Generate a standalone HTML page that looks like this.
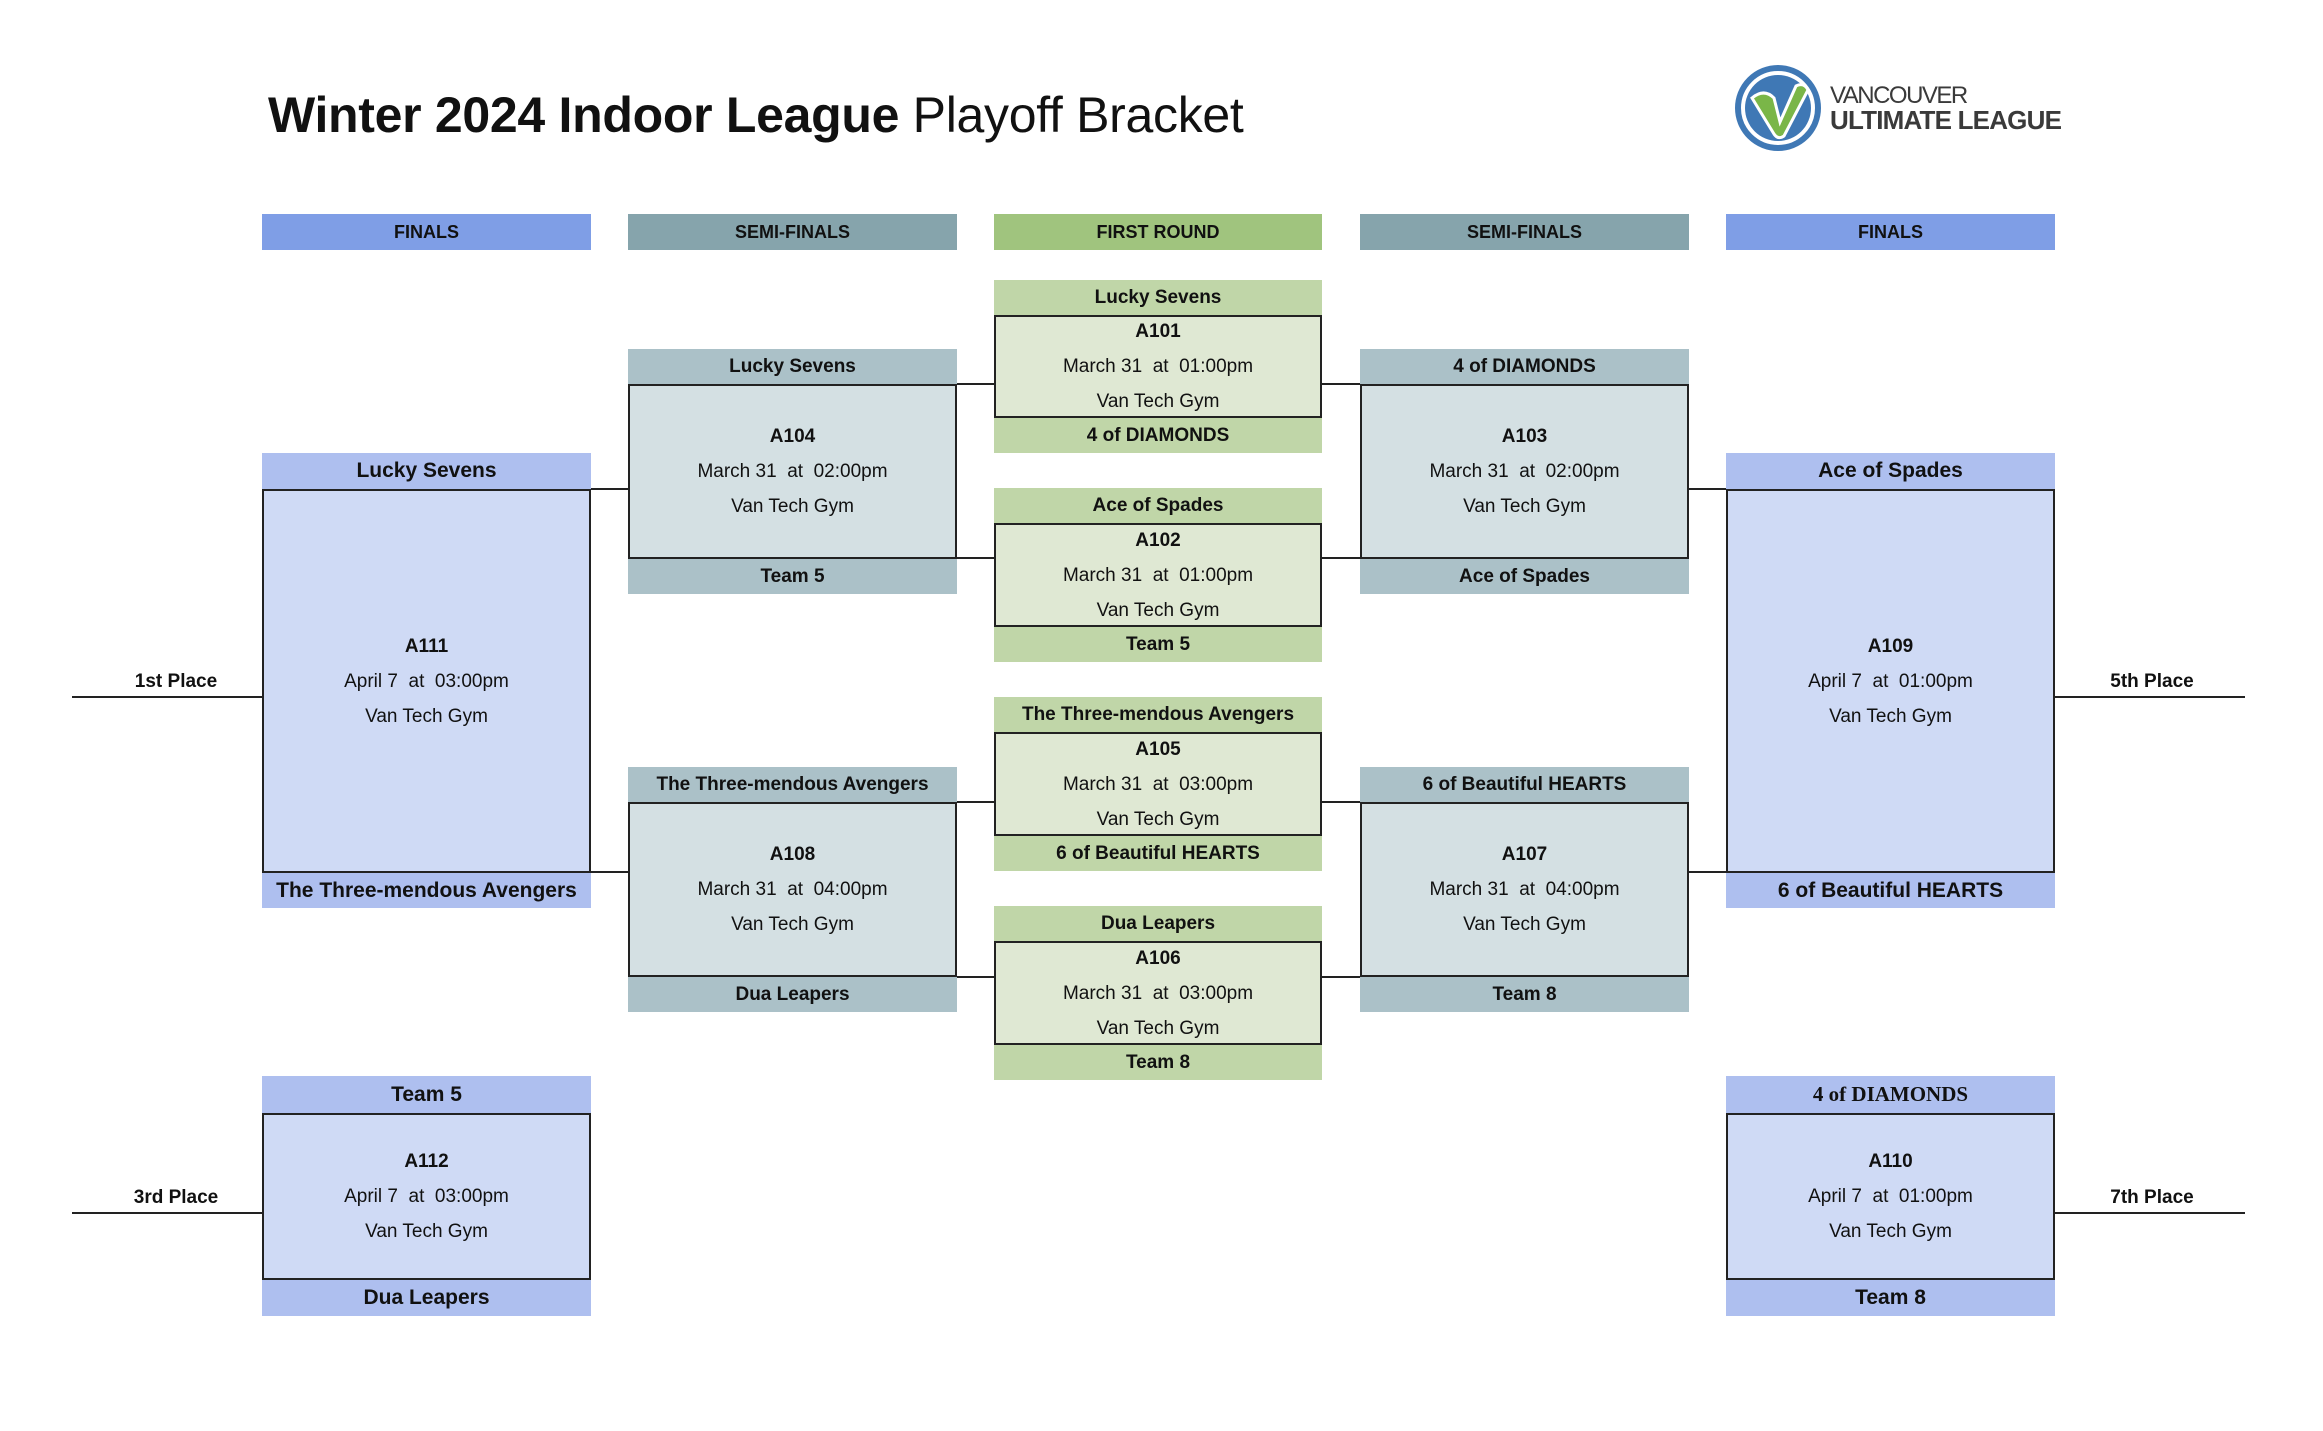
<!DOCTYPE html>
<html><head><meta charset="utf-8"><style>
body{margin:0;width:2323px;height:1431px;background:#fff;position:relative;overflow:hidden;font-family:"Liberation Sans",sans-serif;color:#111}
div{position:absolute;box-sizing:border-box}
.c{display:flex;align-items:center;justify-content:center;text-align:center;font-weight:bold;font-size:19px}
.h1{background:#7f9ee6}.h2{background:#86a4ac}.h3{background:#a0c47e}
.fb{background:#aebfef}.fx{background:#cfdaf5;border:2px solid #222}
.sb{background:#abc1c8}.sx{background:#d4e0e3;border:2px solid #222}
.rb{background:#c0d6a8}.rx{background:#dfe8d3;border:2px solid #222}
.box{display:flex;flex-direction:column;align-items:center;justify-content:center;font-size:19px;line-height:35px;text-align:center}
.box b{font-weight:bold}
.l{height:2px;background:#222}
.pl{font-weight:bold;font-size:19px;text-align:center;width:160px}
</style></head><body>

<div style="left:268px;top:86px;font-size:50px;white-space:nowrap;letter-spacing:-0.3px"><b>Winter 2024 Indoor League</b> Playoff Bracket</div>

<svg style="position:absolute;left:1734px;top:64px" width="90" height="90" viewBox="0 0 90 90">
<circle cx="44" cy="44" r="40" fill="#fff" stroke="#3f78b5" stroke-width="6"/>
<circle cx="44" cy="44" r="33" fill="#3f78b5"/>
<path d="M18 34 Q30 24 40 34 L46 58 L62 22 Q70 18 74 26 L50 72 Q44 76 40 70 Z" fill="#7ab648" stroke="#fff" stroke-width="3"/>
</svg>
<div style="left:1830px;top:82px;font-size:24px;color:#3a3a3a;letter-spacing:-1.5px;white-space:nowrap">VANCOUVER</div>
<div style="left:1830px;top:105px;font-size:26px;font-weight:bold;color:#3a3a3a;white-space:nowrap;letter-spacing:-0.8px">ULTIMATE LEAGUE</div>

<!-- column headers -->
<div class="c h1" style="left:262px;top:214px;width:329px;height:36px;font-size:18px">FINALS</div>
<div class="c h2" style="left:628px;top:214px;width:329px;height:36px;font-size:18px">SEMI-FINALS</div>
<div class="c h3" style="left:994px;top:214px;width:328px;height:36px;font-size:18px">FIRST ROUND</div>
<div class="c h2" style="left:1360px;top:214px;width:329px;height:36px;font-size:18px">SEMI-FINALS</div>
<div class="c h1" style="left:1726px;top:214px;width:329px;height:36px;font-size:18px">FINALS</div>

<!-- first round -->
<div class="c rb" style="left:994px;top:280px;width:328px;height:35px">Lucky Sevens</div>
<div class="box rx" style="left:994px;top:315px;width:328px;height:103px"><b>A101</b><span>March 31&nbsp; at&nbsp; 01:00pm</span><span>Van Tech Gym</span></div>
<div class="c rb" style="left:994px;top:418px;width:328px;height:35px">4 of DIAMONDS</div>

<div class="c rb" style="left:994px;top:488px;width:328px;height:35px">Ace of Spades</div>
<div class="box rx" style="left:994px;top:523px;width:328px;height:104px"><b>A102</b><span>March 31&nbsp; at&nbsp; 01:00pm</span><span>Van Tech Gym</span></div>
<div class="c rb" style="left:994px;top:627px;width:328px;height:35px">Team 5</div>

<div class="c rb" style="left:994px;top:697px;width:328px;height:35px">The Three-mendous Avengers</div>
<div class="box rx" style="left:994px;top:732px;width:328px;height:104px"><b>A105</b><span>March 31&nbsp; at&nbsp; 03:00pm</span><span>Van Tech Gym</span></div>
<div class="c rb" style="left:994px;top:836px;width:328px;height:35px">6 of Beautiful HEARTS</div>

<div class="c rb" style="left:994px;top:906px;width:328px;height:35px">Dua Leapers</div>
<div class="box rx" style="left:994px;top:941px;width:328px;height:104px"><b>A106</b><span>March 31&nbsp; at&nbsp; 03:00pm</span><span>Van Tech Gym</span></div>
<div class="c rb" style="left:994px;top:1045px;width:328px;height:35px">Team 8</div>

<!-- semis left -->
<div class="c sb" style="left:628px;top:349px;width:329px;height:35px">Lucky Sevens</div>
<div class="box sx" style="left:628px;top:384px;width:329px;height:175px"><b>A104</b><span>March 31&nbsp; at&nbsp; 02:00pm</span><span>Van Tech Gym</span></div>
<div class="c sb" style="left:628px;top:559px;width:329px;height:35px">Team 5</div>

<div class="c sb" style="left:628px;top:767px;width:329px;height:35px">The Three-mendous Avengers</div>
<div class="box sx" style="left:628px;top:802px;width:329px;height:175px"><b>A108</b><span>March 31&nbsp; at&nbsp; 04:00pm</span><span>Van Tech Gym</span></div>
<div class="c sb" style="left:628px;top:977px;width:329px;height:35px">Dua Leapers</div>

<!-- semis right -->
<div class="c sb" style="left:1360px;top:349px;width:329px;height:35px">4 of DIAMONDS</div>
<div class="box sx" style="left:1360px;top:384px;width:329px;height:175px"><b>A103</b><span>March 31&nbsp; at&nbsp; 02:00pm</span><span>Van Tech Gym</span></div>
<div class="c sb" style="left:1360px;top:559px;width:329px;height:35px">Ace of Spades</div>

<div class="c sb" style="left:1360px;top:767px;width:329px;height:35px">6 of Beautiful HEARTS</div>
<div class="box sx" style="left:1360px;top:802px;width:329px;height:175px"><b>A107</b><span>March 31&nbsp; at&nbsp; 04:00pm</span><span>Van Tech Gym</span></div>
<div class="c sb" style="left:1360px;top:977px;width:329px;height:35px">Team 8</div>

<!-- finals left -->
<div class="c fb" style="left:262px;top:453px;width:329px;height:36px;font-size:21px">Lucky Sevens</div>
<div class="box fx" style="left:262px;top:489px;width:329px;height:384px"><b>A111</b><span>April 7&nbsp; at&nbsp; 03:00pm</span><span>Van Tech Gym</span></div>
<div class="c fb" style="left:262px;top:873px;width:329px;height:35px;font-size:21px">The Three-mendous Avengers</div>

<div class="c fb" style="left:262px;top:1076px;width:329px;height:37px;font-size:21px">Team 5</div>
<div class="box fx" style="left:262px;top:1113px;width:329px;height:167px"><b>A112</b><span>April 7&nbsp; at&nbsp; 03:00pm</span><span>Van Tech Gym</span></div>
<div class="c fb" style="left:262px;top:1280px;width:329px;height:36px;font-size:21px">Dua Leapers</div>

<!-- finals right -->
<div class="c fb" style="left:1726px;top:453px;width:329px;height:36px;font-size:21px">Ace of Spades</div>
<div class="box fx" style="left:1726px;top:489px;width:329px;height:384px"><b>A109</b><span>April 7&nbsp; at&nbsp; 01:00pm</span><span>Van Tech Gym</span></div>
<div class="c fb" style="left:1726px;top:873px;width:329px;height:35px;font-size:21px">6 of Beautiful HEARTS</div>

<div class="c fb" style="left:1726px;top:1076px;width:329px;height:37px;font-size:21px;font-family:'Liberation Serif',serif">4 of DIAMONDS</div>
<div class="box fx" style="left:1726px;top:1113px;width:329px;height:167px"><b>A110</b><span>April 7&nbsp; at&nbsp; 01:00pm</span><span>Van Tech Gym</span></div>
<div class="c fb" style="left:1726px;top:1280px;width:329px;height:36px;font-size:21px">Team 8</div>

<!-- connectors -->
<div class="l" style="left:957px;top:383px;width:37px"></div>
<div class="l" style="left:1322px;top:383px;width:38px"></div>
<div class="l" style="left:957px;top:557px;width:37px"></div>
<div class="l" style="left:1322px;top:557px;width:38px"></div>
<div class="l" style="left:957px;top:801px;width:37px"></div>
<div class="l" style="left:1322px;top:801px;width:38px"></div>
<div class="l" style="left:957px;top:976px;width:37px"></div>
<div class="l" style="left:1322px;top:976px;width:38px"></div>
<div class="l" style="left:591px;top:488px;width:37px"></div>
<div class="l" style="left:591px;top:871px;width:37px"></div>
<div class="l" style="left:1689px;top:488px;width:37px"></div>
<div class="l" style="left:1689px;top:871px;width:37px"></div>

<div class="l" style="left:72px;top:696px;width:190px"></div>
<div class="l" style="left:72px;top:1212px;width:190px"></div>
<div class="l" style="left:2055px;top:696px;width:190px"></div>
<div class="l" style="left:2055px;top:1212px;width:190px"></div>

<div class="pl" style="left:96px;top:671px">1st Place</div>
<div class="pl" style="left:96px;top:1187px">3rd Place</div>
<div class="pl" style="left:2072px;top:671px;left:2072px">5th Place</div>
<div class="pl" style="left:2072px;top:1187px">7th Place</div>

</body></html>
